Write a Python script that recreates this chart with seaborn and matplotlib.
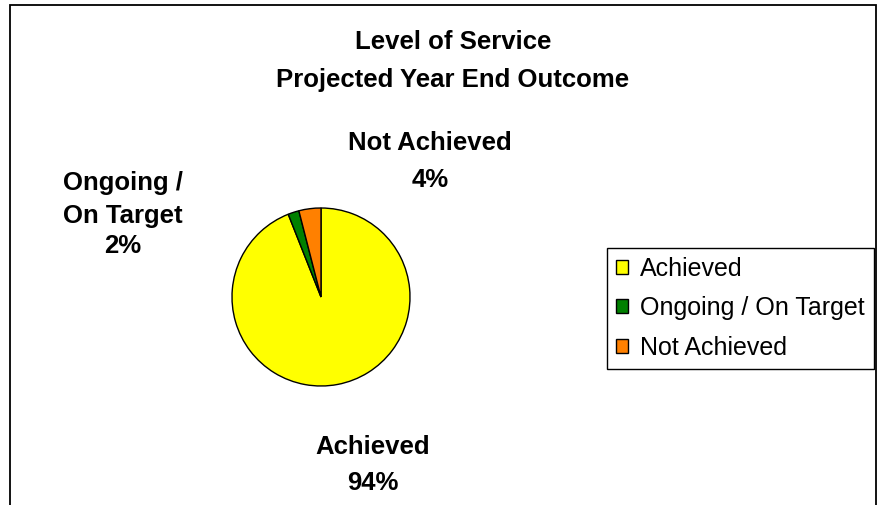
import matplotlib.pyplot as plt
import seaborn as sns
from matplotlib.patches import Rectangle

# =========================
# Data
# =========================

categories = ["Achieved", "Ongoing / On Target", "Not Achieved"]
label_lines = [["Achieved"], ["Ongoing /", "On Target"], ["Not Achieved"]]
values = [94, 2, 4]
colors = ["#FFFF00", "#008000", "#FF8000"]
title_lines = ["Level of Service", "Projected Year End Outcome"]

# label anchor positions (pixels from top-left), one per line incl. percentage
label_pos = [
    [(373, 447), (373, 483)],
    [(123, 183), (123, 216), (123, 246)],
    [(430, 143), (430, 180)],
]

W, H = 879, 505
FS = 18.5

sns.set_style("white")
plt.rcParams["font.family"] = ["Liberation Sans", "DejaVu Sans"]
plt.rcParams["text.color"] = "black"

fig = plt.figure(figsize=(W / 100, H / 100), dpi=100)
ax = fig.add_axes([0, 0, 1, 1])

# =========================
# Pie
# =========================

wedges, _ = ax.pie(
    values,
    colors=colors,
    startangle=90,
    counterclock=False,
    center=(321, H - 297),
    radius=89,
    frame=True,
    wedgeprops=dict(edgecolor="black", linewidth=1)
)

ax.set_xlim(0, W)
ax.set_ylim(0, H)
ax.set_aspect("equal")
ax.axis("off")

# outer chart border
ax.add_patch(Rectangle((10, -20), 866, H - 5 + 20, fill=False,
                       edgecolor="black", linewidth=1.3, clip_on=False))

# =========================
# Title
# =========================

for txt, y in zip(title_lines, [42, 80]):
    ax.text(453, H - y, txt, ha="center", va="center",
            fontsize=FS, fontweight="bold", color="black")

# =========================
# Data labels
# =========================

total = sum(values)
for lines, v, pos in zip(label_lines, values, label_pos):
    texts = lines + [f"{round(100 * v / total)}%"]
    for t, (x, y) in zip(texts, pos):
        ax.text(x, H - y, t, ha="center", va="center",
                fontsize=FS, fontweight="bold", color="black")

# =========================
# Legend
# =========================

leg = ax.legend(
    wedges, categories,
    loc="upper left",
    bbox_to_anchor=(607, H - 248),
    bbox_transform=ax.transData,
    borderaxespad=0,
    fontsize=18,
    frameon=True,
    fancybox=False,
    framealpha=1,
    edgecolor="black",
    handlelength=0.48,
    handleheight=0.48,
    handletextpad=0.5,
    labelspacing=0.62,
    borderpad=0.35
)
leg.get_frame().set_linewidth(1)
for t in leg.get_texts():
    t.set_color("black")

plt.savefig("out.png", dpi=100)
